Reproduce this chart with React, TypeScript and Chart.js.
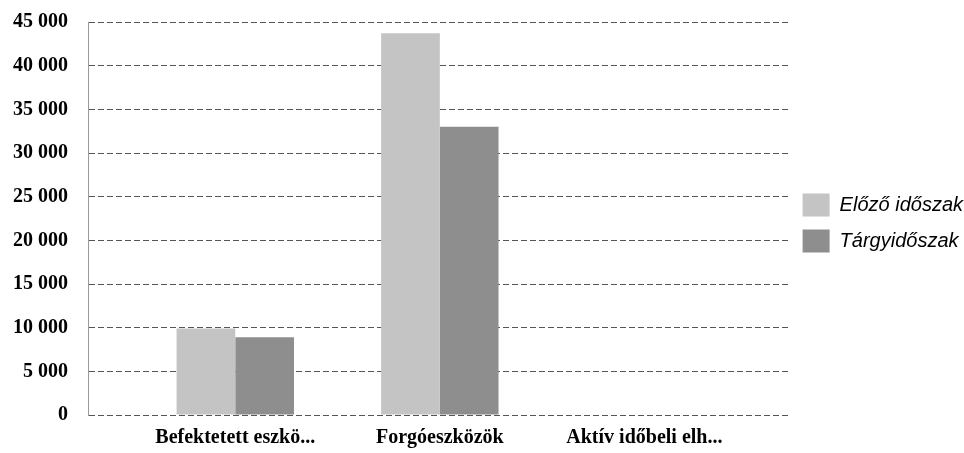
import React, { useEffect, useRef } from "react";
import { Chart, registerables } from "chart.js";

Chart.register(...registerables);

const categories = ["Befektetett eszkö...", "Forgóeszközök", "Aktív időbeli elh..."];
const seriesNames = ["Előző időszak", "Tárgyidőszak"];
const previousValues = [9900, 43700, 0];
const currentValues = [8900, 33000, 0];
const seriesColors = ["#c4c4c4", "#8e8e8e"];

function fmt(v: number): string {
  return String(v).replace(/\B(?=(\d{3})+(?!\d))/g, " ");
}

export default function App() {
  const ref = useRef<HTMLCanvasElement | null>(null);

  useEffect(() => {
    if (!ref.current) return;
    const toPoints = (arr: number[]) => arr.map((v, i) => ({ x: i, y: v }));
    const chart = new Chart(ref.current, {
      type: "bar",
      data: {
        datasets: [
          {
            label: seriesNames[0],
            data: toPoints(previousValues),
            backgroundColor: seriesColors[0],
            borderWidth: 0,
          },
          {
            label: seriesNames[1],
            data: toPoints(currentValues),
            backgroundColor: seriesColors[1],
            borderWidth: 0,
          },
        ],
      },
      options: {
        animation: false,
        responsive: false,
        devicePixelRatio: 1,
        categoryPercentage: 0.574,
        barPercentage: 1,
        layout: { padding: { left: 13, right: -9, top: -4, bottom: 3 } },
        plugins: {
          tooltip: { enabled: false },
          legend: {
            position: "right",
            align: "center",
            labels: {
              boxWidth: 27,
              boxHeight: 23,
              padding: 13,
              color: "#000",
              font: { family: "'Liberation Sans', Arial, sans-serif", style: "italic", size: 20 },
            },
          },
        },
        scales: {
          x: {
            type: "linear",
            min: -0.72,
            max: 2.71,
            offset: false,
            grid: { display: false, drawTicks: false },
            border: { display: false },
            afterBuildTicks: (scale: any) => {
              scale.ticks = categories.map((_, i) => ({ value: i }));
            },
            afterFit: (s: any) => {
              s.paddingLeft = 0;
              s.paddingRight = 0;
              s.height = 35;
            },
            ticks: {
              autoSkip: false,
              maxRotation: 0,
              padding: 11,
              color: "#000",
              font: { family: "'Liberation Serif', 'Times New Roman', serif", weight: "bold", size: 20 },
              callback: (v: any) => categories[Number(v)] ?? "",
            },
          },
          y: {
            type: "linear",
            min: 0,
            max: 45000,
            grid: { color: "#555", lineWidth: 1, drawTicks: false },
            border: { display: true, color: "#999", width: 1, dash: [6, 3] },
            afterFit: (s: any) => {
              s.paddingTop = 22;
              s.paddingBottom = 0;
              s.width = 75;
            },
            ticks: {
              stepSize: 5000,
              padding: 20,
              color: "#000",
              font: { family: "'Liberation Serif', 'Times New Roman', serif", weight: "bold", size: 20 },
              callback: (v: any) => fmt(Number(v)),
            },
          },
        },
      },
    } as any);
    return () => chart.destroy();
  }, []);

  return (
    <div style={{ position: "fixed", left: 0, top: 0, width: 964, height: 453, background: "#fff" }}>
      <canvas ref={ref} width={964} height={453} style={{ display: "block" }} />
    </div>
  );
}
